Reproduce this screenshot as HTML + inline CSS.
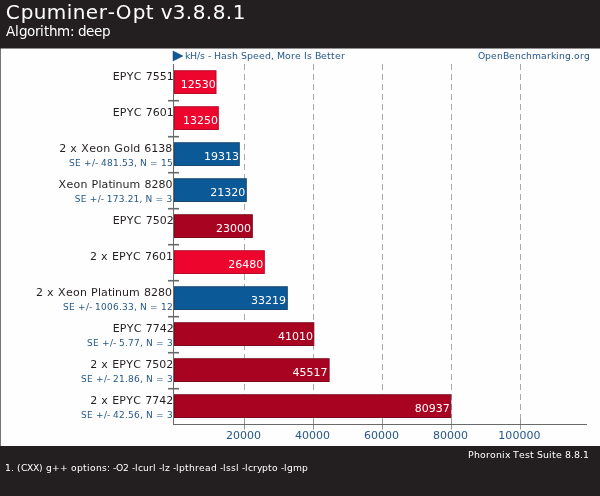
<!DOCTYPE html>
<html><head><meta charset="utf-8"><title>Cpuminer-Opt v3.8.8.1</title>
<style>
html,body{margin:0;padding:0;background:#fefefe;}
svg{display:block;font-family:"DejaVu Sans","Liberation Sans",sans-serif;}
</style></head><body>
<svg width="600" height="496" viewBox="0 0 600 496">
<rect x="0" y="0" width="600" height="496" fill="#fefefe"/>
<rect x="0" y="0" width="1" height="496" fill="#757575"/>
<rect x="0" y="0" width="600" height="48.5" fill="#231f20"/>
<rect x="0" y="446" width="600" height="50" fill="#231f20"/>
<polygon points="173,51 173,61 183,56" fill="#0c5997" stroke="#1c4872" stroke-width="0.5"/>
<text x="5.63 20.63 33.63 46.63 66.63 72.63 85.63 98.63 107.63 115.63 132.63 145.63 153.63 160.63 172.63 185.63 192.63 205.63 212.63 225.63 232.63" y="19.3" font-size="20" fill="#ffffff">Cpuminer-Opt v3.8.8.1</text>
<text x="5.88 14.88 18.88 26.88 34.88 39.88 43.88 48.88 56.88 69.88 73.88 77.88 85.88 93.88 101.88" y="36.0" font-size="13.5" fill="#ffffff">Algorithm: deep</text>
<text x="185.05 190.05 197.05 200.05 205.05 208.05 211.05 214.05 221.05 227.05 232.05 238.05 241.05 247.05 253.05 259.05 265.05 271.05 274.05 277.05 285.05 291.05 295.05 301.05 304.05 307.05 312.05 315.05 321.05 327.05 331.05 335.05 341.05" y="59" font-size="9.4" fill="#255888">kH/s - Hash Speed, More Is Better</text>
<text x="478 485 491 497 503 509 515 521 526 532 541 547 551 556 559 565 571 574 580 584" y="59" font-size="9.2" fill="#255888">OpenBenchmarking.org</text>
<line x1="244.5" y1="64" x2="244.5" y2="420" stroke="#a8a8a8" stroke-width="1" stroke-dasharray="6,4"/>
<line x1="244.5" y1="419" x2="244.5" y2="429.5" stroke="#959595" stroke-width="1"/>
<text x="226 233 240 247 254" y="438.7" font-size="11" fill="#255888">20000</text>
<line x1="313.5" y1="64" x2="313.5" y2="420" stroke="#a8a8a8" stroke-width="1" stroke-dasharray="6,4"/>
<line x1="313.5" y1="419" x2="313.5" y2="429.5" stroke="#959595" stroke-width="1"/>
<text x="295.12 302.12 309.12 316.12 323.12" y="438.7" font-size="11" fill="#255888">40000</text>
<line x1="382.5" y1="64" x2="382.5" y2="420" stroke="#a8a8a8" stroke-width="1" stroke-dasharray="6,4"/>
<line x1="382.5" y1="419" x2="382.5" y2="429.5" stroke="#959595" stroke-width="1"/>
<text x="364 371 378 385 392" y="438.7" font-size="11" fill="#255888">60000</text>
<line x1="451.5" y1="64" x2="451.5" y2="420" stroke="#a8a8a8" stroke-width="1" stroke-dasharray="6,4"/>
<line x1="451.5" y1="419" x2="451.5" y2="429.5" stroke="#959595" stroke-width="1"/>
<text x="433 440 447 454 461" y="438.7" font-size="11" fill="#255888">80000</text>
<line x1="520.5" y1="64" x2="520.5" y2="420" stroke="#a8a8a8" stroke-width="1" stroke-dasharray="6,4"/>
<line x1="520.5" y1="419" x2="520.5" y2="429.5" stroke="#959595" stroke-width="1"/>
<text x="498.37 505.37 512.38 519.38 526.38 533.38" y="438.7" font-size="11" fill="#255888">100000</text>
<line x1="173.5" y1="64" x2="173.5" y2="425" stroke="#6a6a6a" stroke-width="1"/>
<line x1="173" y1="424.5" x2="587" y2="424.5" stroke="#6a6a6a" stroke-width="1"/>
<rect x="174.5" y="70.75" width="41.50" height="22.75" fill="#ee052d" stroke="#b50a28" stroke-width="1"/>
<text x="180.87 187.87 194.87 201.87 208.87" y="87.6" font-size="11" fill="#ffffff">12530</text>
<text x="112.63 119.63 126.63 133.63 141.63 145.63 152.63 159.63 166.63" y="80" font-size="11" fill="#231f20">EPYC 7551</text>
<line x1="168" y1="100.7" x2="179" y2="100.7" stroke="#6a6a6a" stroke-width="1.6"/>
<rect x="174.5" y="106.75" width="43.80" height="22.75" fill="#ee052d" stroke="#b50a28" stroke-width="1"/>
<text x="182.93 189.93 196.93 203.93 210.93" y="123.6" font-size="11" fill="#ffffff">13250</text>
<text x="112.63 119.63 126.63 133.63 141.63 145.63 152.63 159.63 166.63" y="116" font-size="11" fill="#231f20">EPYC 7601</text>
<line x1="168" y1="136.7" x2="179" y2="136.7" stroke="#6a6a6a" stroke-width="1.6"/>
<rect x="174.5" y="142.75" width="64.80" height="22.75" fill="#0c5997" stroke="#1c4872" stroke-width="1"/>
<text x="203.93 210.93 217.93 224.93 231.93" y="159.6" font-size="11" fill="#ffffff">19313</text>
<text x="59.13 66.13 70.13 77.13 81.13 89.13 96.13 103.13 110.13 114.13 123.13 130.13 133.13 140.13 144.13 151.13 158.13 165.13" y="152" font-size="11" fill="#231f20">2 x Xeon Gold 6138</text>
<text x="69 75 81 84 92 95 98 101 107 113 119 122 128 134 137 140 147 150 158 161 167" y="166" font-size="9" fill="#255888">SE +/- 481.53, N = 15</text>
<line x1="168" y1="172.7" x2="179" y2="172.7" stroke="#6a6a6a" stroke-width="1.6"/>
<rect x="174.5" y="178.75" width="71.80" height="22.75" fill="#0c5997" stroke="#1c4872" stroke-width="1"/>
<text x="210.3 217.3 224.3 231.3 238.3" y="195.6" font-size="11" fill="#ffffff">21320</text>
<text x="58.5 66.5 73.5 80.5 87.5 91.5 98.5 101.5 108.5 112.5 115.5 122.5 129.5 140.5 144.5 151.5 158.5 165.5" y="188" font-size="11" fill="#231f20">Xeon Platinum 8280</text>
<text x="74.63 80.63 86.63 89.63 97.63 100.63 103.63 106.63 112.63 118.63 124.63 127.63 133.62 139.62 142.62 145.62 152.62 155.62 163.62 166.62" y="202" font-size="9" fill="#255888">SE +/- 173.21, N = 3</text>
<line x1="168" y1="208.7" x2="179" y2="208.7" stroke="#6a6a6a" stroke-width="1.6"/>
<rect x="174.5" y="214.75" width="77.80" height="22.75" fill="#a80421" stroke="#7e0a1c" stroke-width="1"/>
<text x="216.05 223.05 230.05 237.05 244.05" y="231.6" font-size="11" fill="#ffffff">23000</text>
<text x="112.75 119.75 126.75 133.75 141.75 145.75 152.75 159.75 166.75" y="224" font-size="11" fill="#231f20">EPYC 7502</text>
<line x1="168" y1="244.7" x2="179" y2="244.7" stroke="#6a6a6a" stroke-width="1.6"/>
<rect x="174.5" y="250.75" width="89.80" height="22.75" fill="#ee052d" stroke="#b50a28" stroke-width="1"/>
<text x="228.3 235.3 242.3 249.3 256.3" y="267.6" font-size="11" fill="#ffffff">26480</text>
<text x="90.12 97.12 101.12 108.12 112.12 119.12 126.12 133.12 141.12 145.12 152.12 159.12 166.12" y="260" font-size="11" fill="#231f20">2 x EPYC 7601</text>
<line x1="168" y1="280.7" x2="179" y2="280.7" stroke="#6a6a6a" stroke-width="1.6"/>
<rect x="174.5" y="286.75" width="112.80" height="22.75" fill="#0c5997" stroke="#1c4872" stroke-width="1"/>
<text x="250.93 257.93 264.93 271.93 278.93" y="303.6" font-size="11" fill="#ffffff">33219</text>
<text x="36.12 43.12 47.12 54.12 58.12 66.12 73.12 80.12 87.12 91.12 98.12 101.12 108.12 112.12 115.12 122.12 129.12 140.12 144.12 151.12 158.12 165.12" y="296" font-size="11" fill="#231f20">2 x Xeon Platinum 8280</text>
<text x="63 69 75 78 86 89 92 95 101 107 113 119 122 128 134 137 140 147 150 158 161 167" y="310" font-size="9" fill="#255888">SE +/- 1006.33, N = 12</text>
<line x1="168" y1="316.7" x2="179" y2="316.7" stroke="#6a6a6a" stroke-width="1.6"/>
<rect x="174.5" y="322.75" width="139.30" height="22.75" fill="#a80421" stroke="#7e0a1c" stroke-width="1"/>
<text x="277.93 284.93 291.93 298.93 305.93" y="339.6" font-size="11" fill="#ffffff">41010</text>
<text x="112.75 119.75 126.75 133.75 141.75 145.75 152.75 159.75 166.75" y="332" font-size="11" fill="#231f20">EPYC 7742</text>
<text x="86.88 92.88 98.88 101.88 109.88 112.88 115.88 118.88 124.88 127.88 133.88 139.88 142.88 145.88 152.88 155.88 163.88 166.88" y="346" font-size="9" fill="#255888">SE +/- 5.77, N = 3</text>
<line x1="168" y1="352.7" x2="179" y2="352.7" stroke="#6a6a6a" stroke-width="1.6"/>
<rect x="174.5" y="358.75" width="154.60" height="22.75" fill="#a80421" stroke="#7e0a1c" stroke-width="1"/>
<text x="292.6 299.6 306.6 313.6 320.6" y="375.6" font-size="11" fill="#ffffff">45517</text>
<text x="90.25 97.25 101.25 108.25 112.25 119.25 126.25 133.25 141.25 145.25 152.25 159.25 166.25" y="368" font-size="11" fill="#231f20">2 x EPYC 7502</text>
<text x="80.88 86.88 92.88 95.88 103.88 106.88 109.88 112.88 118.88 124.88 127.88 133.88 139.88 142.88 145.88 152.88 155.88 163.88 166.88" y="382" font-size="9" fill="#255888">SE +/- 21.86, N = 3</text>
<line x1="168" y1="388.7" x2="179" y2="388.7" stroke="#6a6a6a" stroke-width="1.6"/>
<rect x="174.5" y="394.75" width="276.30" height="22.75" fill="#a80421" stroke="#7e0a1c" stroke-width="1"/>
<text x="414.67 421.67 428.67 435.67 442.67" y="411.6" font-size="11" fill="#ffffff">80937</text>
<text x="90.25 97.25 101.25 108.25 112.25 119.25 126.25 133.25 141.25 145.25 152.25 159.25 166.25" y="404" font-size="11" fill="#231f20">2 x EPYC 7742</text>
<text x="80.88 86.88 92.88 95.88 103.88 106.88 109.88 112.88 118.88 124.88 127.88 133.88 139.88 142.88 145.88 152.88 155.88 163.88 166.88" y="418" font-size="9" fill="#255888">SE +/- 42.56, N = 3</text>
<text x="468 474 480 486 490 496 502 505 510 513 519 525 530 534 537 543 549 552 556 562 565 571 574 580 583" y="458.2" font-size="9.4" fill="#ffffff">Phoronix Test Suite 8.8.1</text>
<text x="5 11 14 17 21 27 33 39 43 46 52 60 68 71 77 83 87 90 96 102 107 110 113 116 123 129 132 135 138 143 149 153 156 159 162 165 170 173 176 179 185 189 195 199 205 211 217 220 223 226 231 236 239 242 245 248 253 257 262 268 272 278 281 284 287 293 302" y="470.8" font-size="9.2" fill="#ffffff">1. (CXX) g++ options: -O2 -lcurl -lz -lpthread -lssl -lcrypto -lgmp</text>
</svg>
</body></html>
